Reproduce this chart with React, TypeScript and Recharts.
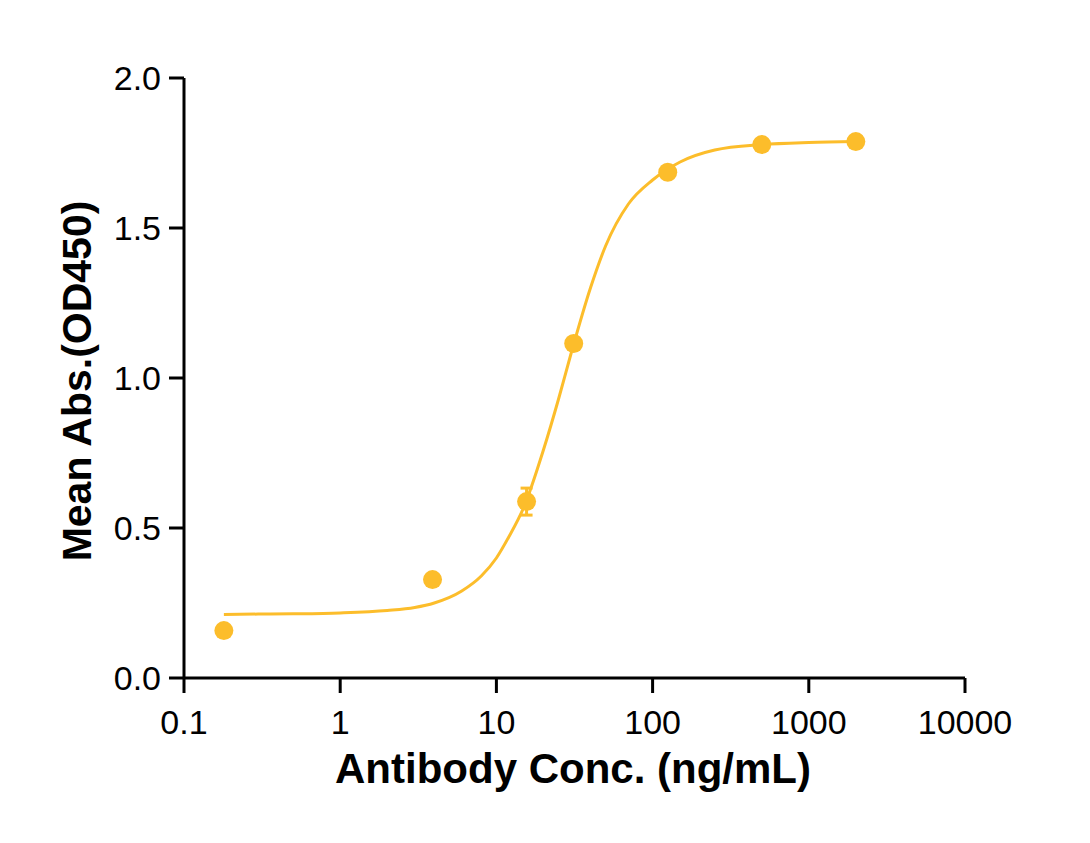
import React from 'react';
import { ComposedChart, Line, Scatter, ErrorBar, XAxis, YAxis, Label } from 'recharts';

const GOLD = '#FCBD2B';
const FONT = '"Liberation Sans", Arial, Helvetica, sans-serif';

// measured points
const conc = [0.18, 3.9, 15.6, 31.25, 125, 500, 2000];
const meanAbs = [0.158, 0.328, 0.588, 1.115, 1.686, 1.778, 1.788];
const sd = [0, 0, 0.045, 0, 0, 0, 0];

// fitted curve
const curveX = [0.18, 0.3, 0.5, 1, 2, 3, 4, 6, 8, 10, 12, 15, 20, 25, 30, 40, 50, 70, 100, 150, 250, 500, 1000, 2000];
const curveY = [0.212, 0.213, 0.214, 0.217, 0.225, 0.235, 0.25, 0.29, 0.34, 0.4, 0.47, 0.57, 0.76, 0.93, 1.08, 1.3, 1.44, 1.58, 1.66, 1.72, 1.76, 1.778, 1.785, 1.788];

const xTicks = [0.1, 1, 10, 100, 1000, 10000];
const xTickLabels = ['0.1', '1', '10', '100', '1000', '10000'];
const yTicks = [0, 0.5, 1, 1.5, 2];

const points = conc.map((x, i) => ({ x, y: meanAbs[i], err: sd[i] }));
const curve = curveX.map((x, i) => ({ x, y: curveY[i] }));

const Dot = (props: any) => <circle cx={props.cx} cy={props.cy} r={9.5} fill={GOLD} />;

export default function App() {
  return (
    <div style={{ position: 'absolute', left: 0, top: 0, width: 1090, height: 843, background: '#fff' }}>
      <ComposedChart width={1090} height={843} margin={{ top: 78, right: 125, left: 0, bottom: 0 }}>
        <XAxis
          dataKey="x"
          type="number"
          scale="log"
          domain={[0.1, 10000]}
          ticks={xTicks}
          tickFormatter={(v: number) => xTickLabels[xTicks.indexOf(v)] ?? String(v)}
          allowDataOverflow
          height={165}
          axisLine={{ stroke: '#000', strokeWidth: 3 }}
          tickLine={{ stroke: '#000', strokeWidth: 3 }}
          tickSize={15}
          tickMargin={17}
          tick={{ fill: '#000', fontSize: 34, fontFamily: FONT }}
        >
          <Label
            content={() => (
              <text x={573} y={783} textAnchor="middle" fontSize={42} fontWeight="bold" fontFamily={FONT} fill="#000">
                Antibody Conc. (ng/mL)
              </text>
            )}
          />
        </XAxis>
        <YAxis
          dataKey="y"
          type="number"
          domain={[0, 2]}
          ticks={yTicks}
          tickFormatter={(v: number) => v.toFixed(1)}
          width={184}
          axisLine={{ stroke: '#000', strokeWidth: 3 }}
          tickLine={{ stroke: '#000', strokeWidth: 3 }}
          tickSize={15}
          tickMargin={8}
          tick={{ fill: '#000', fontSize: 34, fontFamily: FONT }}
        >
          <Label
            content={() => (
              <text
                x={91}
                y={381}
                transform="rotate(-90, 91, 381)"
                textAnchor="middle"
                fontSize={41}
                fontWeight="bold"
                fontFamily={FONT}
                fill="#000"
              >
                Mean Abs.(OD450)
              </text>
            )}
          />
        </YAxis>
        <Line
          data={curve}
          dataKey="y"
          type="monotone"
          stroke={GOLD}
          strokeWidth={3}
          dot={false}
          activeDot={false}
          isAnimationActive={false}
        />
        <Scatter data={points} dataKey="y" fill={GOLD} shape={Dot} isAnimationActive={false}>
          <ErrorBar dataKey="err" direction="y" width={6} stroke={GOLD} strokeWidth={3} isAnimationActive={false} />
        </Scatter>
      </ComposedChart>
    </div>
  );
}
